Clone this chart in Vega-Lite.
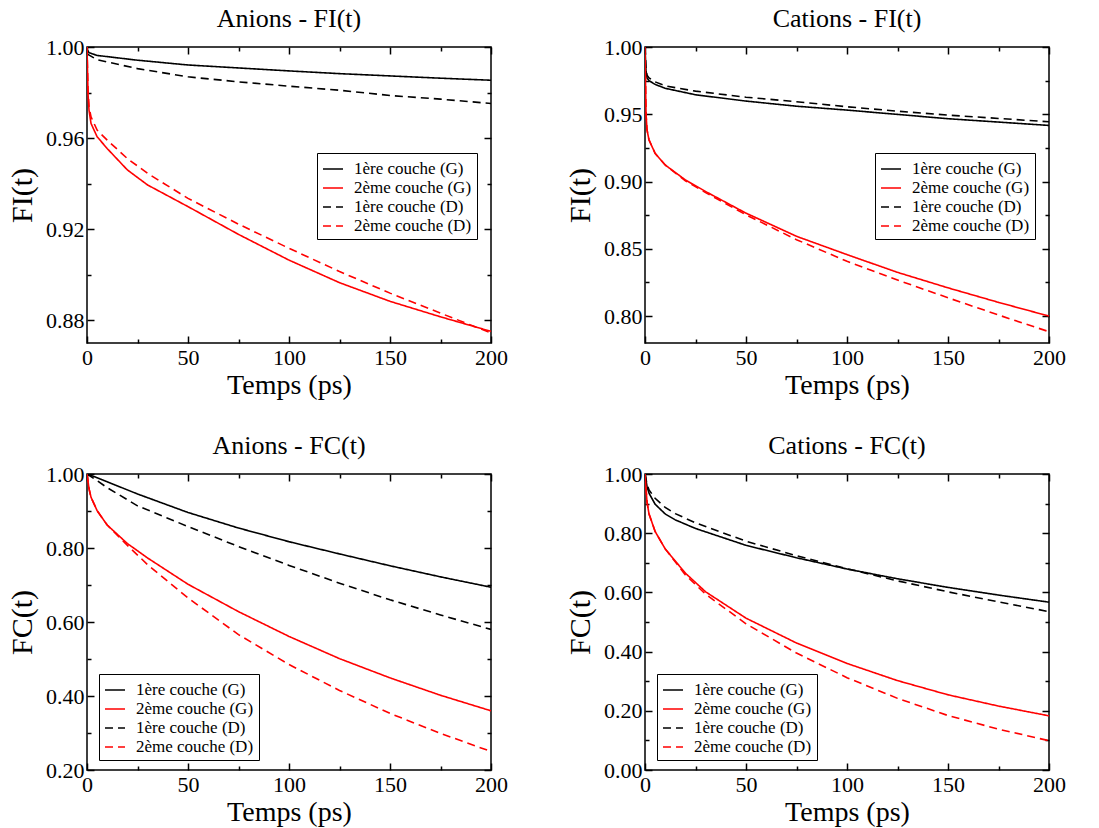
{
  "$schema": "https://vega.github.io/schema/vega-lite/v6.json",
  "background": "white",
  "padding": {"left": 6, "top": 5, "right": 5, "bottom": 2},
  "config": {
    "font": "Liberation Serif",
    "view": {"stroke": "black", "strokeWidth": 1.5},
    "axis": {"grid": false, "domain": false, "labelFont": "Liberation Serif", "labelFontSize": 22, "labelColor": "black", "titleFont": "Liberation Serif", "titleFontSize": 28, "titleFontWeight": "normal", "titleColor": "black", "tickColor": "black", "tickWidth": 1.5, "labelOverlap": false, "labelFlush": false},
    "legend": {"labelFont": "Liberation Serif", "labelFontSize": 17, "labelColor": "black", "strokeColor": "black", "fillColor": "white", "padding": 5, "symbolType": "stroke", "symbolSize": 400, "symbolStrokeWidth": 1.5, "rowPadding": 0, "labelOffset": 10, "labelLimit": 300},
    "title": {"font": "Liberation Serif", "fontSize": 26, "fontWeight": "normal", "color": "black", "offset": 4, "anchor": "middle", "frame": "group"}
  },
  "data": {"values": [
    {"panel": "AI", "series": "1ère couche (G)", "t": 0, "v": 0.999},
    {"panel": "AI", "series": "1ère couche (G)", "t": 1, "v": 0.9975},
    {"panel": "AI", "series": "1ère couche (G)", "t": 5, "v": 0.9963},
    {"panel": "AI", "series": "1ère couche (G)", "t": 25, "v": 0.9942},
    {"panel": "AI", "series": "1ère couche (G)", "t": 50, "v": 0.9921},
    {"panel": "AI", "series": "1ère couche (G)", "t": 75, "v": 0.9908},
    {"panel": "AI", "series": "1ère couche (G)", "t": 100, "v": 0.9895},
    {"panel": "AI", "series": "1ère couche (G)", "t": 125, "v": 0.9883},
    {"panel": "AI", "series": "1ère couche (G)", "t": 150, "v": 0.9873},
    {"panel": "AI", "series": "1ère couche (G)", "t": 175, "v": 0.9863},
    {"panel": "AI", "series": "1ère couche (G)", "t": 200, "v": 0.9854},
    {"panel": "AI", "series": "2ème couche (G)", "t": 0, "v": 1.0},
    {"panel": "AI", "series": "2ème couche (G)", "t": 0.5, "v": 0.9796},
    {"panel": "AI", "series": "2ème couche (G)", "t": 1, "v": 0.9722},
    {"panel": "AI", "series": "2ème couche (G)", "t": 2, "v": 0.9664},
    {"panel": "AI", "series": "2ème couche (G)", "t": 5, "v": 0.9606},
    {"panel": "AI", "series": "2ème couche (G)", "t": 10, "v": 0.9554},
    {"panel": "AI", "series": "2ème couche (G)", "t": 20, "v": 0.946},
    {"panel": "AI", "series": "2ème couche (G)", "t": 30, "v": 0.9394},
    {"panel": "AI", "series": "2ème couche (G)", "t": 50, "v": 0.9299},
    {"panel": "AI", "series": "2ème couche (G)", "t": 75, "v": 0.9177},
    {"panel": "AI", "series": "2ème couche (G)", "t": 100, "v": 0.9064},
    {"panel": "AI", "series": "2ème couche (G)", "t": 125, "v": 0.8965},
    {"panel": "AI", "series": "2ème couche (G)", "t": 150, "v": 0.8883},
    {"panel": "AI", "series": "2ème couche (G)", "t": 175, "v": 0.8815},
    {"panel": "AI", "series": "2ème couche (G)", "t": 200, "v": 0.8751},
    {"panel": "AI", "series": "1ère couche (D)", "t": 0, "v": 0.997},
    {"panel": "AI", "series": "1ère couche (D)", "t": 5, "v": 0.9944},
    {"panel": "AI", "series": "1ère couche (D)", "t": 25, "v": 0.9905},
    {"panel": "AI", "series": "1ère couche (D)", "t": 50, "v": 0.9869},
    {"panel": "AI", "series": "1ère couche (D)", "t": 75, "v": 0.9847},
    {"panel": "AI", "series": "1ère couche (D)", "t": 100, "v": 0.9828},
    {"panel": "AI", "series": "1ère couche (D)", "t": 125, "v": 0.981},
    {"panel": "AI", "series": "1ère couche (D)", "t": 150, "v": 0.9787},
    {"panel": "AI", "series": "1ère couche (D)", "t": 175, "v": 0.9771},
    {"panel": "AI", "series": "1ère couche (D)", "t": 200, "v": 0.9752},
    {"panel": "AI", "series": "2ème couche (D)", "t": 0, "v": 1.0},
    {"panel": "AI", "series": "2ème couche (D)", "t": 0.5, "v": 0.981},
    {"panel": "AI", "series": "2ème couche (D)", "t": 1, "v": 0.9737},
    {"panel": "AI", "series": "2ème couche (D)", "t": 2, "v": 0.9693},
    {"panel": "AI", "series": "2ème couche (D)", "t": 5, "v": 0.9635},
    {"panel": "AI", "series": "2ème couche (D)", "t": 10, "v": 0.9591},
    {"panel": "AI", "series": "2ème couche (D)", "t": 20, "v": 0.951},
    {"panel": "AI", "series": "2ème couche (D)", "t": 30, "v": 0.9445},
    {"panel": "AI", "series": "2ème couche (D)", "t": 50, "v": 0.9335},
    {"panel": "AI", "series": "2ème couche (D)", "t": 75, "v": 0.9222},
    {"panel": "AI", "series": "2ème couche (D)", "t": 100, "v": 0.9116},
    {"panel": "AI", "series": "2ème couche (D)", "t": 125, "v": 0.9014},
    {"panel": "AI", "series": "2ème couche (D)", "t": 150, "v": 0.8919},
    {"panel": "AI", "series": "2ème couche (D)", "t": 175, "v": 0.8831},
    {"panel": "AI", "series": "2ème couche (D)", "t": 200, "v": 0.8744},

    {"panel": "CI", "series": "1ère couche (G)", "t": 0, "v": 1.0},
    {"panel": "CI", "series": "1ère couche (G)", "t": 0.5, "v": 0.982},
    {"panel": "CI", "series": "1ère couche (G)", "t": 1, "v": 0.977},
    {"panel": "CI", "series": "1ère couche (G)", "t": 2, "v": 0.975},
    {"panel": "CI", "series": "1ère couche (G)", "t": 5, "v": 0.9722},
    {"panel": "CI", "series": "1ère couche (G)", "t": 10, "v": 0.9693},
    {"panel": "CI", "series": "1ère couche (G)", "t": 25, "v": 0.9645},
    {"panel": "CI", "series": "1ère couche (G)", "t": 50, "v": 0.9598},
    {"panel": "CI", "series": "1ère couche (G)", "t": 75, "v": 0.956},
    {"panel": "CI", "series": "1ère couche (G)", "t": 100, "v": 0.9531},
    {"panel": "CI", "series": "1ère couche (G)", "t": 125, "v": 0.9499},
    {"panel": "CI", "series": "1ère couche (G)", "t": 150, "v": 0.9467},
    {"panel": "CI", "series": "1ère couche (G)", "t": 175, "v": 0.9442},
    {"panel": "CI", "series": "1ère couche (G)", "t": 200, "v": 0.9417},
    {"panel": "CI", "series": "2ème couche (G)", "t": 0, "v": 1.0},
    {"panel": "CI", "series": "2ème couche (G)", "t": 0.5, "v": 0.9506},
    {"panel": "CI", "series": "2ème couche (G)", "t": 1, "v": 0.9383},
    {"panel": "CI", "series": "2ème couche (G)", "t": 2, "v": 0.9309},
    {"panel": "CI", "series": "2ème couche (G)", "t": 5, "v": 0.921},
    {"panel": "CI", "series": "2ème couche (G)", "t": 10, "v": 0.9123},
    {"panel": "CI", "series": "2ème couche (G)", "t": 20, "v": 0.9012},
    {"panel": "CI", "series": "2ème couche (G)", "t": 30, "v": 0.8926},
    {"panel": "CI", "series": "2ème couche (G)", "t": 50, "v": 0.8765},
    {"panel": "CI", "series": "2ème couche (G)", "t": 75, "v": 0.8593},
    {"panel": "CI", "series": "2ème couche (G)", "t": 100, "v": 0.8457},
    {"panel": "CI", "series": "2ème couche (G)", "t": 125, "v": 0.8325},
    {"panel": "CI", "series": "2ème couche (G)", "t": 150, "v": 0.821},
    {"panel": "CI", "series": "2ème couche (G)", "t": 175, "v": 0.8102},
    {"panel": "CI", "series": "2ème couche (G)", "t": 200, "v": 0.8},
    {"panel": "CI", "series": "1ère couche (D)", "t": 0, "v": 1.0},
    {"panel": "CI", "series": "1ère couche (D)", "t": 0.5, "v": 0.983},
    {"panel": "CI", "series": "1ère couche (D)", "t": 1, "v": 0.979},
    {"panel": "CI", "series": "1ère couche (D)", "t": 2, "v": 0.977},
    {"panel": "CI", "series": "1ère couche (D)", "t": 5, "v": 0.9741},
    {"panel": "CI", "series": "1ère couche (D)", "t": 10, "v": 0.9711},
    {"panel": "CI", "series": "1ère couche (D)", "t": 25, "v": 0.9672},
    {"panel": "CI", "series": "1ère couche (D)", "t": 50, "v": 0.9627},
    {"panel": "CI", "series": "1ère couche (D)", "t": 75, "v": 0.9593},
    {"panel": "CI", "series": "1ère couche (D)", "t": 100, "v": 0.9556},
    {"panel": "CI", "series": "1ère couche (D)", "t": 125, "v": 0.9523},
    {"panel": "CI", "series": "1ère couche (D)", "t": 150, "v": 0.9494},
    {"panel": "CI", "series": "1ère couche (D)", "t": 175, "v": 0.9469},
    {"panel": "CI", "series": "1ère couche (D)", "t": 200, "v": 0.9444},
    {"panel": "CI", "series": "2ème couche (D)", "t": 0, "v": 1.0},
    {"panel": "CI", "series": "2ème couche (D)", "t": 0.5, "v": 0.9506},
    {"panel": "CI", "series": "2ème couche (D)", "t": 1, "v": 0.9383},
    {"panel": "CI", "series": "2ème couche (D)", "t": 2, "v": 0.9309},
    {"panel": "CI", "series": "2ème couche (D)", "t": 5, "v": 0.921},
    {"panel": "CI", "series": "2ème couche (D)", "t": 10, "v": 0.9123},
    {"panel": "CI", "series": "2ème couche (D)", "t": 20, "v": 0.9005},
    {"panel": "CI", "series": "2ème couche (D)", "t": 30, "v": 0.8918},
    {"panel": "CI", "series": "2ème couche (D)", "t": 50, "v": 0.8753},
    {"panel": "CI", "series": "2ème couche (D)", "t": 75, "v": 0.8568},
    {"panel": "CI", "series": "2ème couche (D)", "t": 100, "v": 0.8407},
    {"panel": "CI", "series": "2ème couche (D)", "t": 125, "v": 0.8268},
    {"panel": "CI", "series": "2ème couche (D)", "t": 150, "v": 0.8136},
    {"panel": "CI", "series": "2ème couche (D)", "t": 175, "v": 0.8008},
    {"panel": "CI", "series": "2ème couche (D)", "t": 200, "v": 0.7884},

    {"panel": "AC", "series": "1ère couche (G)", "t": 0, "v": 1.0},
    {"panel": "AC", "series": "1ère couche (G)", "t": 5, "v": 0.99},
    {"panel": "AC", "series": "1ère couche (G)", "t": 10, "v": 0.979},
    {"panel": "AC", "series": "1ère couche (G)", "t": 25, "v": 0.946},
    {"panel": "AC", "series": "1ère couche (G)", "t": 50, "v": 0.896},
    {"panel": "AC", "series": "1ère couche (G)", "t": 75, "v": 0.854},
    {"panel": "AC", "series": "1ère couche (G)", "t": 100, "v": 0.817},
    {"panel": "AC", "series": "1ère couche (G)", "t": 125, "v": 0.784},
    {"panel": "AC", "series": "1ère couche (G)", "t": 150, "v": 0.752},
    {"panel": "AC", "series": "1ère couche (G)", "t": 175, "v": 0.722},
    {"panel": "AC", "series": "1ère couche (G)", "t": 200, "v": 0.694},
    {"panel": "AC", "series": "2ème couche (G)", "t": 0, "v": 1.0},
    {"panel": "AC", "series": "2ème couche (G)", "t": 1, "v": 0.96},
    {"panel": "AC", "series": "2ème couche (G)", "t": 2, "v": 0.937},
    {"panel": "AC", "series": "2ème couche (G)", "t": 5, "v": 0.901},
    {"panel": "AC", "series": "2ème couche (G)", "t": 10, "v": 0.862},
    {"panel": "AC", "series": "2ème couche (G)", "t": 20, "v": 0.812},
    {"panel": "AC", "series": "2ème couche (G)", "t": 30, "v": 0.773},
    {"panel": "AC", "series": "2ème couche (G)", "t": 50, "v": 0.702},
    {"panel": "AC", "series": "2ème couche (G)", "t": 75, "v": 0.628},
    {"panel": "AC", "series": "2ème couche (G)", "t": 100, "v": 0.561},
    {"panel": "AC", "series": "2ème couche (G)", "t": 125, "v": 0.501},
    {"panel": "AC", "series": "2ème couche (G)", "t": 150, "v": 0.449},
    {"panel": "AC", "series": "2ème couche (G)", "t": 175, "v": 0.402},
    {"panel": "AC", "series": "2ème couche (G)", "t": 200, "v": 0.36},
    {"panel": "AC", "series": "1ère couche (D)", "t": 0, "v": 1.0},
    {"panel": "AC", "series": "1ère couche (D)", "t": 5, "v": 0.982},
    {"panel": "AC", "series": "1ère couche (D)", "t": 10, "v": 0.963},
    {"panel": "AC", "series": "1ère couche (D)", "t": 25, "v": 0.914},
    {"panel": "AC", "series": "1ère couche (D)", "t": 50, "v": 0.858},
    {"panel": "AC", "series": "1ère couche (D)", "t": 75, "v": 0.804},
    {"panel": "AC", "series": "1ère couche (D)", "t": 100, "v": 0.753},
    {"panel": "AC", "series": "1ère couche (D)", "t": 125, "v": 0.705},
    {"panel": "AC", "series": "1ère couche (D)", "t": 150, "v": 0.66},
    {"panel": "AC", "series": "1ère couche (D)", "t": 175, "v": 0.619},
    {"panel": "AC", "series": "1ère couche (D)", "t": 200, "v": 0.58},
    {"panel": "AC", "series": "2ème couche (D)", "t": 0, "v": 1.0},
    {"panel": "AC", "series": "2ème couche (D)", "t": 1, "v": 0.96},
    {"panel": "AC", "series": "2ème couche (D)", "t": 2, "v": 0.937},
    {"panel": "AC", "series": "2ème couche (D)", "t": 5, "v": 0.901},
    {"panel": "AC", "series": "2ème couche (D)", "t": 10, "v": 0.862},
    {"panel": "AC", "series": "2ème couche (D)", "t": 20, "v": 0.807},
    {"panel": "AC", "series": "2ème couche (D)", "t": 30, "v": 0.755},
    {"panel": "AC", "series": "2ème couche (D)", "t": 50, "v": 0.665},
    {"panel": "AC", "series": "2ème couche (D)", "t": 75, "v": 0.566},
    {"panel": "AC", "series": "2ème couche (D)", "t": 100, "v": 0.485},
    {"panel": "AC", "series": "2ème couche (D)", "t": 125, "v": 0.415},
    {"panel": "AC", "series": "2ème couche (D)", "t": 150, "v": 0.353},
    {"panel": "AC", "series": "2ème couche (D)", "t": 175, "v": 0.299},
    {"panel": "AC", "series": "2ème couche (D)", "t": 200, "v": 0.25},

    {"panel": "CC", "series": "1ère couche (G)", "t": 0, "v": 1.0},
    {"panel": "CC", "series": "1ère couche (G)", "t": 1, "v": 0.958},
    {"panel": "CC", "series": "1ère couche (G)", "t": 2, "v": 0.935},
    {"panel": "CC", "series": "1ère couche (G)", "t": 5, "v": 0.898},
    {"panel": "CC", "series": "1ère couche (G)", "t": 10, "v": 0.865},
    {"panel": "CC", "series": "1ère couche (G)", "t": 15, "v": 0.845},
    {"panel": "CC", "series": "1ère couche (G)", "t": 25, "v": 0.816},
    {"panel": "CC", "series": "1ère couche (G)", "t": 50, "v": 0.759},
    {"panel": "CC", "series": "1ère couche (G)", "t": 75, "v": 0.717},
    {"panel": "CC", "series": "1ère couche (G)", "t": 100, "v": 0.679},
    {"panel": "CC", "series": "1ère couche (G)", "t": 125, "v": 0.646},
    {"panel": "CC", "series": "1ère couche (G)", "t": 150, "v": 0.617},
    {"panel": "CC", "series": "1ère couche (G)", "t": 175, "v": 0.591},
    {"panel": "CC", "series": "1ère couche (G)", "t": 200, "v": 0.567},
    {"panel": "CC", "series": "2ème couche (G)", "t": 0, "v": 1.0},
    {"panel": "CC", "series": "2ème couche (G)", "t": 1, "v": 0.905},
    {"panel": "CC", "series": "2ème couche (G)", "t": 2, "v": 0.865},
    {"panel": "CC", "series": "2ème couche (G)", "t": 5, "v": 0.806},
    {"panel": "CC", "series": "2ème couche (G)", "t": 10, "v": 0.747},
    {"panel": "CC", "series": "2ème couche (G)", "t": 20, "v": 0.665},
    {"panel": "CC", "series": "2ème couche (G)", "t": 30, "v": 0.602},
    {"panel": "CC", "series": "2ème couche (G)", "t": 50, "v": 0.513},
    {"panel": "CC", "series": "2ème couche (G)", "t": 75, "v": 0.429},
    {"panel": "CC", "series": "2ème couche (G)", "t": 100, "v": 0.36},
    {"panel": "CC", "series": "2ème couche (G)", "t": 125, "v": 0.302},
    {"panel": "CC", "series": "2ème couche (G)", "t": 150, "v": 0.254},
    {"panel": "CC", "series": "2ème couche (G)", "t": 175, "v": 0.216},
    {"panel": "CC", "series": "2ème couche (G)", "t": 200, "v": 0.183},
    {"panel": "CC", "series": "1ère couche (D)", "t": 0, "v": 1.0},
    {"panel": "CC", "series": "1ère couche (D)", "t": 1, "v": 0.966},
    {"panel": "CC", "series": "1ère couche (D)", "t": 2, "v": 0.946},
    {"panel": "CC", "series": "1ère couche (D)", "t": 5, "v": 0.918},
    {"panel": "CC", "series": "1ère couche (D)", "t": 10, "v": 0.887},
    {"panel": "CC", "series": "1ère couche (D)", "t": 15, "v": 0.866},
    {"panel": "CC", "series": "1ère couche (D)", "t": 25, "v": 0.835},
    {"panel": "CC", "series": "1ère couche (D)", "t": 50, "v": 0.773},
    {"panel": "CC", "series": "1ère couche (D)", "t": 75, "v": 0.724},
    {"panel": "CC", "series": "1ère couche (D)", "t": 100, "v": 0.68},
    {"panel": "CC", "series": "1ère couche (D)", "t": 125, "v": 0.639},
    {"panel": "CC", "series": "1ère couche (D)", "t": 150, "v": 0.602},
    {"panel": "CC", "series": "1ère couche (D)", "t": 175, "v": 0.568},
    {"panel": "CC", "series": "1ère couche (D)", "t": 200, "v": 0.535},
    {"panel": "CC", "series": "2ème couche (D)", "t": 0, "v": 1.0},
    {"panel": "CC", "series": "2ème couche (D)", "t": 1, "v": 0.905},
    {"panel": "CC", "series": "2ème couche (D)", "t": 2, "v": 0.865},
    {"panel": "CC", "series": "2ème couche (D)", "t": 5, "v": 0.806},
    {"panel": "CC", "series": "2ème couche (D)", "t": 10, "v": 0.747},
    {"panel": "CC", "series": "2ème couche (D)", "t": 20, "v": 0.659},
    {"panel": "CC", "series": "2ème couche (D)", "t": 30, "v": 0.594},
    {"panel": "CC", "series": "2ème couche (D)", "t": 50, "v": 0.494},
    {"panel": "CC", "series": "2ème couche (D)", "t": 75, "v": 0.395},
    {"panel": "CC", "series": "2ème couche (D)", "t": 100, "v": 0.312},
    {"panel": "CC", "series": "2ème couche (D)", "t": 125, "v": 0.242},
    {"panel": "CC", "series": "2ème couche (D)", "t": 150, "v": 0.184},
    {"panel": "CC", "series": "2ème couche (D)", "t": 175, "v": 0.138},
    {"panel": "CC", "series": "2ème couche (D)", "t": 200, "v": 0.099}
  ]},
  "columns": 2,
  "spacing": {"row": 131, "column": 154},
  "bounds": "flush",
  "resolve": {
    "scale": {"color": "independent", "strokeDash": "independent", "x": "independent", "y": "independent"},
    "legend": {"color": "independent", "strokeDash": "independent"}
  },
  "concat": [
    {
      "width": 404, "height": 296,
      "title": "Anions - FI(t)",
      "transform": [{"filter": "datum.panel === 'AI'"}],
      "layer": [
        {
          "mark": {"type": "line", "strokeWidth": 1.6, "clip": true},
          "encoding": {
            "x": {"field": "t", "type": "quantitative", "scale": {"domain": [0, 200], "nice": false, "zero": false},
              "axis": {"orient": "bottom", "title": "Temps (ps)", "values": [0, 25, 50, 75, 100, 125, 150, 175, 200], "labelExpr": "datum.value % 50 === 0 ? datum.label : ''", "tickSize": {"condition": {"test": "datum.value % 50 === 0", "value": -7}, "value": -4}, "labelPadding": 11, "titlePadding": 0}},
            "y": {"field": "v", "type": "quantitative", "scale": {"domain": [0.87, 1.0], "nice": false, "zero": false},
              "axis": {"orient": "left", "title": "FI(t)", "titleFontSize": 30, "values": [0.88, 0.9, 0.92, 0.94, 0.96, 0.98, 1.0], "format": ".2f", "labelExpr": "round(datum.value * 100) % 4 === 0 ? datum.label : ''", "tickSize": {"condition": {"test": "round(datum.value * 100) % 4 === 0", "value": -7}, "value": -4}, "labelPadding": 10, "titlePadding": 8}},
            "color": {"field": "series", "type": "nominal", "scale": {"domain": ["1ère couche (G)", "2ème couche (G)", "1ère couche (D)", "2ème couche (D)"], "range": ["black", "red", "black", "red"]}, "legend": {"orient": "none", "legendX": 230, "legendY": 106, "title": null}},
            "strokeDash": {"field": "series", "type": "nominal", "scale": {"domain": ["1ère couche (G)", "2ème couche (G)", "1ère couche (D)", "2ème couche (D)"], "range": [[1, 0], [1, 0], [8, 5], [8, 5]]}, "legend": {"orient": "none", "legendX": 230, "legendY": 106, "title": null}}
          }
        },
        {
          "mark": {"type": "point", "opacity": 0},
          "encoding": {
            "x": {"field": "t", "type": "quantitative", "scale": {"domain": [0, 200], "nice": false, "zero": false},
              "axis": {"orient": "top", "title": null, "labels": false, "values": [0, 25, 50, 75, 100, 125, 150, 175, 200], "tickSize": {"condition": {"test": "datum.value % 50 === 0", "value": -7}, "value": -4}}},
            "y": {"field": "v", "type": "quantitative", "scale": {"domain": [0.87, 1.0], "nice": false, "zero": false},
              "axis": {"orient": "right", "title": null, "labels": false, "values": [0.88, 0.9, 0.92, 0.94, 0.96, 0.98, 1.0], "tickSize": {"condition": {"test": "round(datum.value * 100) % 4 === 0", "value": -7}, "value": -4}}}
          }
        }
      ]
    },
    {
      "width": 404, "height": 296,
      "title": "Cations - FI(t)",
      "transform": [{"filter": "datum.panel === 'CI'"}],
      "layer": [
        {
          "mark": {"type": "line", "strokeWidth": 1.6, "clip": true},
          "encoding": {
            "x": {"field": "t", "type": "quantitative", "scale": {"domain": [0, 200], "nice": false, "zero": false},
              "axis": {"orient": "bottom", "title": "Temps (ps)", "values": [0, 25, 50, 75, 100, 125, 150, 175, 200], "labelExpr": "datum.value % 50 === 0 ? datum.label : ''", "tickSize": {"condition": {"test": "datum.value % 50 === 0", "value": -7}, "value": -4}, "labelPadding": 11, "titlePadding": 0}},
            "y": {"field": "v", "type": "quantitative", "scale": {"domain": [0.78, 1.0], "nice": false, "zero": false},
              "axis": {"orient": "left", "title": "FI(t)", "titleFontSize": 30, "values": [0.8, 0.825, 0.85, 0.875, 0.9, 0.925, 0.95, 0.975, 1.0], "format": ".2f", "labelExpr": "round(datum.value * 1000) % 50 === 0 ? datum.label : ''", "tickSize": {"condition": {"test": "round(datum.value * 1000) % 50 === 0", "value": -7}, "value": -4}, "labelPadding": 10, "titlePadding": 8}},
            "color": {"field": "series", "type": "nominal", "scale": {"domain": ["1ère couche (G)", "2ème couche (G)", "1ère couche (D)", "2ème couche (D)"], "range": ["black", "red", "black", "red"]}, "legend": {"orient": "none", "legendX": 230, "legendY": 106, "title": null}},
            "strokeDash": {"field": "series", "type": "nominal", "scale": {"domain": ["1ère couche (G)", "2ème couche (G)", "1ère couche (D)", "2ème couche (D)"], "range": [[1, 0], [1, 0], [8, 5], [8, 5]]}, "legend": {"orient": "none", "legendX": 230, "legendY": 106, "title": null}}
          }
        },
        {
          "mark": {"type": "point", "opacity": 0},
          "encoding": {
            "x": {"field": "t", "type": "quantitative", "scale": {"domain": [0, 200], "nice": false, "zero": false},
              "axis": {"orient": "top", "title": null, "labels": false, "values": [0, 25, 50, 75, 100, 125, 150, 175, 200], "tickSize": {"condition": {"test": "datum.value % 50 === 0", "value": -7}, "value": -4}}},
            "y": {"field": "v", "type": "quantitative", "scale": {"domain": [0.78, 1.0], "nice": false, "zero": false},
              "axis": {"orient": "right", "title": null, "labels": false, "values": [0.8, 0.825, 0.85, 0.875, 0.9, 0.925, 0.95, 0.975, 1.0], "tickSize": {"condition": {"test": "round(datum.value * 1000) % 50 === 0", "value": -7}, "value": -4}}}
          }
        }
      ]
    },
    {
      "width": 404, "height": 296,
      "title": "Anions - FC(t)",
      "transform": [{"filter": "datum.panel === 'AC'"}],
      "layer": [
        {
          "mark": {"type": "line", "strokeWidth": 1.6, "clip": true},
          "encoding": {
            "x": {"field": "t", "type": "quantitative", "scale": {"domain": [0, 200], "nice": false, "zero": false},
              "axis": {"orient": "bottom", "title": "Temps (ps)", "values": [0, 25, 50, 75, 100, 125, 150, 175, 200], "labelExpr": "datum.value % 50 === 0 ? datum.label : ''", "tickSize": {"condition": {"test": "datum.value % 50 === 0", "value": -7}, "value": -4}, "labelPadding": 11, "titlePadding": 0}},
            "y": {"field": "v", "type": "quantitative", "scale": {"domain": [0.2, 1.0], "nice": false, "zero": false},
              "axis": {"orient": "left", "title": "FC(t)", "titleFontSize": 30, "values": [0.2, 0.3, 0.4, 0.5, 0.6, 0.7, 0.8, 0.9, 1.0], "format": ".2f", "labelExpr": "round(datum.value * 10) % 2 === 0 ? datum.label : ''", "tickSize": {"condition": {"test": "round(datum.value * 10) % 2 === 0", "value": -7}, "value": -4}, "labelPadding": 10, "titlePadding": 8}},
            "color": {"field": "series", "type": "nominal", "scale": {"domain": ["1ère couche (G)", "2ème couche (G)", "1ère couche (D)", "2ème couche (D)"], "range": ["black", "red", "black", "red"]}, "legend": {"orient": "none", "legendX": 12, "legendY": 200, "title": null}},
            "strokeDash": {"field": "series", "type": "nominal", "scale": {"domain": ["1ère couche (G)", "2ème couche (G)", "1ère couche (D)", "2ème couche (D)"], "range": [[1, 0], [1, 0], [8, 5], [8, 5]]}, "legend": {"orient": "none", "legendX": 12, "legendY": 200, "title": null}}
          }
        },
        {
          "mark": {"type": "point", "opacity": 0},
          "encoding": {
            "x": {"field": "t", "type": "quantitative", "scale": {"domain": [0, 200], "nice": false, "zero": false},
              "axis": {"orient": "top", "title": null, "labels": false, "values": [0, 25, 50, 75, 100, 125, 150, 175, 200], "tickSize": {"condition": {"test": "datum.value % 50 === 0", "value": -7}, "value": -4}}},
            "y": {"field": "v", "type": "quantitative", "scale": {"domain": [0.2, 1.0], "nice": false, "zero": false},
              "axis": {"orient": "right", "title": null, "labels": false, "values": [0.2, 0.3, 0.4, 0.5, 0.6, 0.7, 0.8, 0.9, 1.0], "tickSize": {"condition": {"test": "round(datum.value * 10) % 2 === 0", "value": -7}, "value": -4}}}
          }
        }
      ]
    },
    {
      "width": 404, "height": 296,
      "title": "Cations - FC(t)",
      "transform": [{"filter": "datum.panel === 'CC'"}],
      "layer": [
        {
          "mark": {"type": "line", "strokeWidth": 1.6, "clip": true},
          "encoding": {
            "x": {"field": "t", "type": "quantitative", "scale": {"domain": [0, 200], "nice": false, "zero": false},
              "axis": {"orient": "bottom", "title": "Temps (ps)", "values": [0, 25, 50, 75, 100, 125, 150, 175, 200], "labelExpr": "datum.value % 50 === 0 ? datum.label : ''", "tickSize": {"condition": {"test": "datum.value % 50 === 0", "value": -7}, "value": -4}, "labelPadding": 11, "titlePadding": 0}},
            "y": {"field": "v", "type": "quantitative", "scale": {"domain": [0, 1.0], "nice": false, "zero": false},
              "axis": {"orient": "left", "title": "FC(t)", "titleFontSize": 30, "values": [0, 0.1, 0.2, 0.3, 0.4, 0.5, 0.6, 0.7, 0.8, 0.9, 1.0], "format": ".2f", "labelExpr": "round(datum.value * 10) % 2 === 0 ? datum.label : ''", "tickSize": {"condition": {"test": "round(datum.value * 10) % 2 === 0", "value": -7}, "value": -4}, "labelPadding": 10, "titlePadding": 8}},
            "color": {"field": "series", "type": "nominal", "scale": {"domain": ["1ère couche (G)", "2ème couche (G)", "1ère couche (D)", "2ème couche (D)"], "range": ["black", "red", "black", "red"]}, "legend": {"orient": "none", "legendX": 12, "legendY": 200, "title": null}},
            "strokeDash": {"field": "series", "type": "nominal", "scale": {"domain": ["1ère couche (G)", "2ème couche (G)", "1ère couche (D)", "2ème couche (D)"], "range": [[1, 0], [1, 0], [8, 5], [8, 5]]}, "legend": {"orient": "none", "legendX": 12, "legendY": 200, "title": null}}
          }
        },
        {
          "mark": {"type": "point", "opacity": 0},
          "encoding": {
            "x": {"field": "t", "type": "quantitative", "scale": {"domain": [0, 200], "nice": false, "zero": false},
              "axis": {"orient": "top", "title": null, "labels": false, "values": [0, 25, 50, 75, 100, 125, 150, 175, 200], "tickSize": {"condition": {"test": "datum.value % 50 === 0", "value": -7}, "value": -4}}},
            "y": {"field": "v", "type": "quantitative", "scale": {"domain": [0, 1.0], "nice": false, "zero": false},
              "axis": {"orient": "right", "title": null, "labels": false, "values": [0, 0.1, 0.2, 0.3, 0.4, 0.5, 0.6, 0.7, 0.8, 0.9, 1.0], "tickSize": {"condition": {"test": "round(datum.value * 10) % 2 === 0", "value": -7}, "value": -4}}}
          }
        }
      ]
    }
  ]
}
